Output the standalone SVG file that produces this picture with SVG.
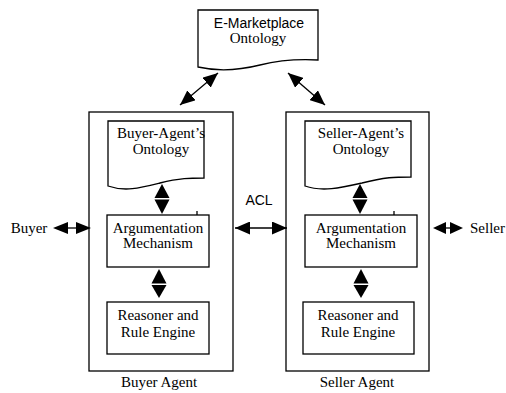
<svg xmlns="http://www.w3.org/2000/svg" width="506" height="393" viewBox="0 0 506 393">
<style>
.box{fill:#fff;stroke:#000;stroke-width:1.3}
.serif{font-family:"Liberation Serif","Times New Roman",serif;font-size:15px;fill:#000;text-anchor:middle}
.sans{font-family:"Liberation Sans",Arial,sans-serif;font-size:14px;fill:#000;text-anchor:middle}
.ln{stroke:#000;stroke-width:1.3;fill:none}
.hd{fill:#000}
</style>
<defs>
<marker id="ah" markerUnits="userSpaceOnUse" markerWidth="15" markerHeight="13" refX="15" refY="6.5" orient="auto-start-reverse">
<path d="M0,0 L15,6.5 L0,13 z" fill="#000"/>
</marker>
</defs>
<rect width="506" height="393" fill="#fff"/>
<g id="emarketplace-ontology">
<path class="box" d="M198,10 H318 V60 C300,59 280,60 260,65 C240,70 220,72 198,67 Z"/>
<text class="sans" x="259" y="28">E-Marketplace</text>
<text class="serif" x="258" y="43">Ontology</text>
</g>
<g id="buyer-agent">
<rect class="box" x="89" y="112" width="144" height="259"/>
<text class="serif" x="159" y="387">Buyer Agent</text>
</g>
<g id="buyer-ontology">
<path class="box" d="M108,121 H204 V178 C190,178 180,178 160,183 C140,188 125,192 108,186 Z"/>
<text class="serif" x="161" y="138">Buyer-Agent’s</text>
<text class="serif" x="161" y="154">Ontology</text>
</g>
<g id="buyer-argumentation">
<rect class="box" x="107" y="215" width="102" height="52"/>
<text class="serif" x="158" y="233">Argumentation</text>
<text class="serif" x="158" y="248">Mechanism</text>
</g>
<g id="buyer-reasoner">
<rect class="box" x="107" y="302" width="102" height="52"/>
<text class="serif" x="158" y="320">Reasoner and</text>
<text class="serif" x="158" y="337">Rule Engine</text>
</g>
<g id="seller-agent">
<rect class="box" x="286" y="112" width="143" height="259"/>
<text class="serif" x="357" y="387">Seller Agent</text>
</g>
<g id="seller-ontology">
<path class="box" d="M305,121 H411 V177 C395,177 385,177 362,183 C340,188 322,192 305,186 Z"/>
<text class="serif" x="361" y="138">Seller-Agent’s</text>
<text class="serif" x="361" y="154">Ontology</text>
</g>
<g id="seller-argumentation">
<rect class="box" x="305" y="215" width="112" height="52"/>
<text class="serif" x="361" y="233">Argumentation</text>
<text class="serif" x="361" y="248">Mechanism</text>
</g>
<g id="seller-reasoner">
<rect class="box" x="303" y="302" width="111" height="52"/>
<text class="serif" x="358" y="320">Reasoner and</text>
<text class="serif" x="358" y="337">Rule Engine</text>
</g>
<g id="buyer-label">
<text class="serif" x="29" y="233">Buyer</text>
</g>
<g id="seller-label">
<text class="serif" x="470" y="233" style="text-anchor:start">Seller</text>
</g>
<g id="connectors">
<line class="ln" x1="180" y1="105" x2="218" y2="73" marker-start="url(#ah)" marker-end="url(#ah)"/>
<line class="ln" x1="288" y1="73" x2="325" y2="105" marker-start="url(#ah)" marker-end="url(#ah)"/>
<line class="ln" x1="235" y1="228" x2="287" y2="228" marker-start="url(#ah)" marker-end="url(#ah)"/>
<text class="sans" x="259" y="205">ACL</text>
<polygon class="hd" points="162,184 169.5,198 154.5,198"/>
<polygon class="hd" points="162,214 169.5,199.5 154.5,199.5"/>
<polygon class="hd" points="159,269 166.5,283.5 151.5,283.5"/>
<polygon class="hd" points="159,298 166.5,285 151.5,285"/>
<polygon class="hd" points="360,184 367.5,198 352.5,198"/>
<polygon class="hd" points="360,214 367.5,199.5 352.5,199.5"/>
<polygon class="hd" points="361,269 368.5,283.5 353.5,283.5"/>
<polygon class="hd" points="361,298 368.5,285 353.5,285"/>
<polygon class="hd" points="53,228 68,222 68,234"/>
<line class="ln" x1="68" y1="228" x2="76" y2="228"/>
<polygon class="hd" points="91,228 76,222 76,234"/>
<polygon class="hd" points="433,228 446,222 446,234"/>
<line class="ln" x1="446" y1="228" x2="450" y2="228"/>
<polygon class="hd" points="463,228 450,222 450,234"/>
<line class="ln" x1="197" y1="211" x2="197" y2="215"/>
<line class="ln" x1="394" y1="211" x2="394" y2="215"/>
</g>
</svg>
